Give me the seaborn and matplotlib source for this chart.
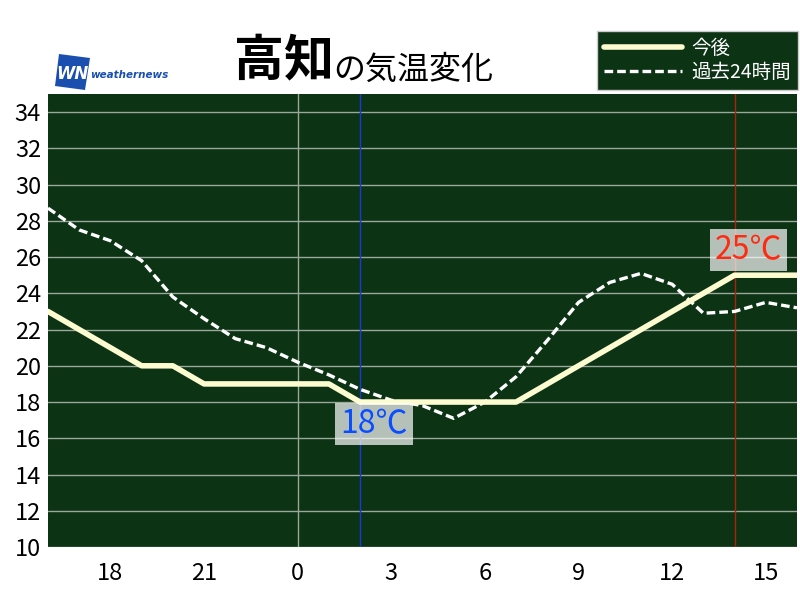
import pandas as pd
import matplotlib.pyplot as plt
import seaborn as sns
from matplotlib.patches import Polygon

# hours relative to midnight (16:00 yesterday -> 16:00 today)
hours = list(range(-8, 17))
forecast = [23, 22, 21, 20, 20, 19, 19, 19, 19, 19, 18, 18, 18, 18, 18, 18,
            19, 20, 21, 22, 23, 24, 25, 25, 25]
past24 = [28.7, 27.5, 26.9, 25.8, 23.8, 22.6, 21.5, 21.0, 20.2, 19.5, 18.7, 18.1,
          17.8, 17.1, 18.0, 19.4, 21.4, 23.5, 24.6, 25.1, 24.5, 22.9, 23.0, 23.5, 23.2]
tick_hours = [-6, -3, 0, 3, 6, 9, 12, 15]
tick_labels = ['18', '21', '0', '3', '6', '9', '12', '15']
y_ticks = list(range(10, 35, 2))
min_hour, min_temp = 2, 18
max_hour, max_temp = 14, 25

sns.set_style("white")
plt.rcParams['font.family'] = ['Noto Sans CJK JP', 'DejaVu Sans']

df = pd.DataFrame({'hour': hours, 'forecast': forecast, 'past': past24})

bg = '#0b3314'
fig = plt.figure(figsize=(8, 6), dpi=100)
ax = fig.add_axes([48 / 800, 1 - 547 / 600, 749 / 800, 453 / 600])
ax.set_facecolor(bg)

for y in y_ticks:
    ax.axhline(y, color='#9aa89c', lw=1, zorder=1)
ax.axvline(0, color='#9aa89c', lw=1, zorder=1)
ax.axvline(min_hour, color='#1a3ad8', lw=1, zorder=1)
ax.axvline(max_hour, color='#b0200f', lw=1, zorder=1)

sns.lineplot(data=df, x='hour', y='past', ax=ax, color='white', lw=2.4,
             linestyle=(0, (2.6, 1.2)), label='過去24時間', zorder=3)
sns.lineplot(data=df, x='hour', y='forecast', ax=ax, color='#fdfbd0', lw=4,
             label='今後', zorder=4)

ax.set_xlim(-8, 16)
ax.set_ylim(10, 35)
ax.set_xticks(tick_hours)
ax.set_xticklabels(tick_labels)
ax.set_yticks(y_ticks)
ax.tick_params(axis='both', length=0, labelsize=17, colors='black')
ax.tick_params(axis='x', pad=11)
ax.tick_params(axis='y', pad=5)
ax.set_xlabel('')
ax.set_ylabel('')
for s in ax.spines.values():
    s.set_visible(False)

box = dict(boxstyle='square,pad=0.15', facecolor='white', alpha=0.7, edgecolor='none')
ax.annotate(f'{min_temp}℃', xy=(min_hour, min_temp), xytext=(10, -16),
            textcoords='offset points', ha='center', va='center', fontsize=23,
            color='#0a4cff', bbox=box, zorder=6)
ax.annotate(f'{max_temp}℃', xy=(max_hour, max_temp), xytext=(10, 18),
            textcoords='offset points', ha='center', va='center', fontsize=23,
            color='#ff2a10', bbox=box, zorder=6)

# legend
handles, labels = ax.get_legend_handles_labels()
ax.legend_.remove()
leg = fig.legend(handles[::-1], labels[::-1], loc='upper right',
                 bbox_to_anchor=(798 / 800, 1 - 31 / 600), frameon=True,
                 facecolor=bg, edgecolor='#cccccc', framealpha=1, fancybox=False,
                 fontsize=14, labelcolor='white', handlelength=4.0,
                 borderpad=0.35, labelspacing=0.15, handletextpad=0.5,
                 borderaxespad=0)
leg.get_frame().set_linewidth(1)

# title
fig.text(234 / 800, 1 - 86 / 600, '高知', fontsize=36, fontweight='bold',
         ha='left', va='bottom', color='black')
fig.text(333 / 800, 1 - 86 / 600, 'の気温変化', fontsize=23,
         ha='left', va='bottom', color='black')

# weathernews logo
logo = Polygon([(59 / 800, 1 - 54 / 600), (90 / 800, 1 - 58 / 600),
                (85 / 800, 1 - 90 / 600), (55 / 800, 1 - 86 / 600)],
               closed=True, transform=fig.transFigure, facecolor='#1a4fb0',
               edgecolor='none')
fig.patches.append(logo)
fig.text(72 / 800, 1 - 74 / 600, 'WN', fontsize=12, fontweight='bold',
         style='italic', color='white', ha='center', va='center',
         family='DejaVu Sans')
fig.text(90 / 800, 1 - 75 / 600, 'weathernews', fontsize=7.5, fontweight='bold',
         style='italic', color='#1a4fb0', ha='left', va='center',
         family='DejaVu Sans')

fig.savefig('out.png', dpi=100)
